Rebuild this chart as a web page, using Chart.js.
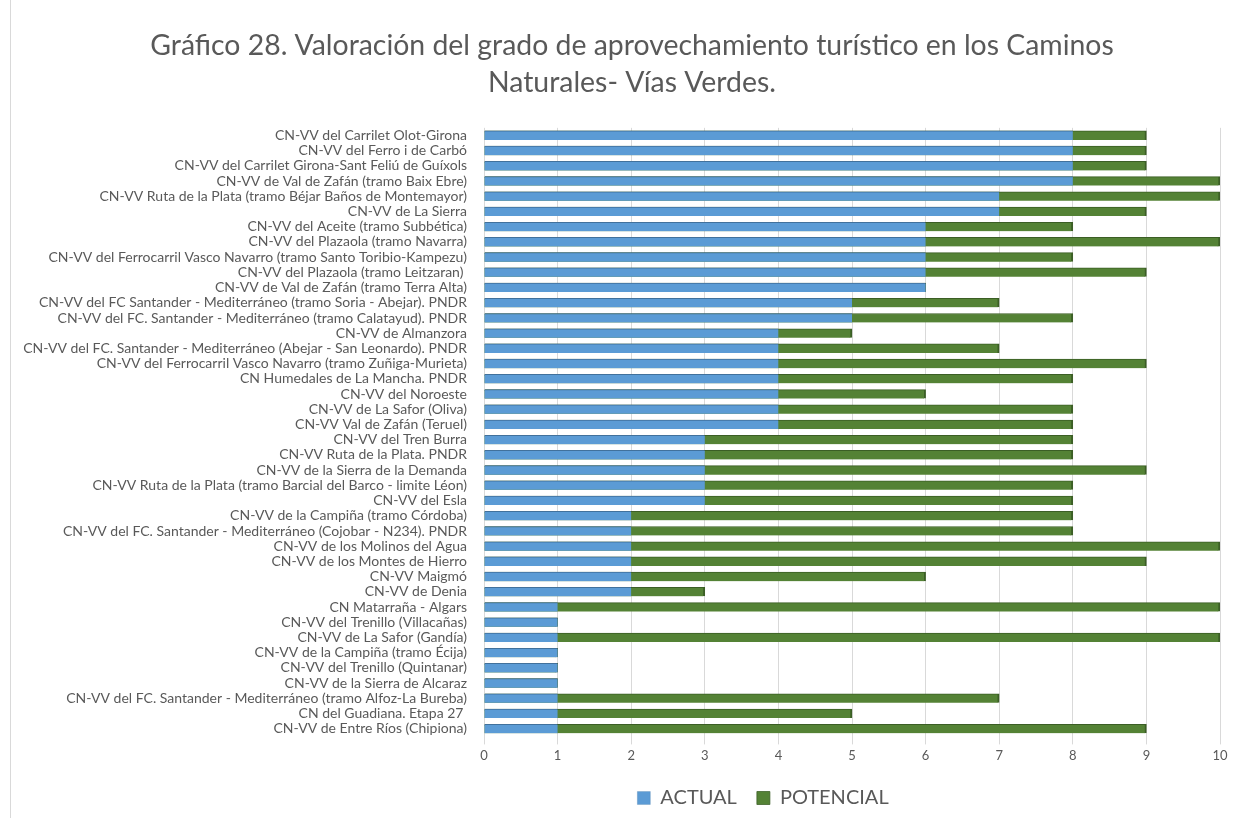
<!DOCTYPE html>
<html>
<head>
<meta charset="utf-8">
<script src="https://cdn.jsdelivr.net/npm/chart.js@4"></script>
<style>
  html, body { margin: 0; padding: 0; background: #fff; }
  #wrap { position: relative; width: 1244px; height: 818px; }
  #frame { position: absolute; left: 10px; top: 0; width: 1px; height: 818px; background: #d9d9d9; }
</style>
</head>
<body>
<div id="wrap">
  <div id="frame"></div>
  <canvas id="myChart" width="1244" height="818"></canvas>
</div>
<script>
// categorias (de arriba a abajo)
let labels = [
  'CN-VV del Carrilet Olot-Girona',
  'CN-VV del Ferro i de Carbó',
  'CN-VV del Carrilet Girona-Sant Feliú de Guíxols',
  'CN-VV de Val de Zafán (tramo Baix Ebre)',
  'CN-VV Ruta de la Plata (tramo Béjar Baños de Montemayor)',
  'CN-VV de La Sierra',
  'CN-VV del Aceite (tramo Subbética)',
  'CN-VV del Plazaola (tramo Navarra)',
  'CN-VV del Ferrocarril Vasco Navarro (tramo Santo Toribio-Kampezu)',
  'CN-VV del Plazaola (tramo Leitzaran) ',
  'CN-VV de Val de Zafán (tramo Terra Alta)',
  'CN-VV del FC Santander - Mediterráneo (tramo Soria - Abejar). PNDR',
  'CN-VV del FC. Santander - Mediterráneo (tramo Calatayud). PNDR',
  'CN-VV de Almanzora',
  'CN-VV del FC. Santander - Mediterráneo (Abejar - San Leonardo). PNDR',
  'CN-VV del Ferrocarril Vasco Navarro (tramo Zuñiga-Murieta)',
  'CN Humedales de La Mancha. PNDR',
  'CN-VV del Noroeste',
  'CN-VV de La Safor (Oliva)',
  'CN-VV Val de Zafán (Teruel)',
  'CN-VV del Tren Burra',
  'CN-VV Ruta de la Plata. PNDR',
  'CN-VV de la Sierra de la Demanda',
  'CN-VV Ruta de la Plata (tramo Barcial del Barco - limite Léon)',
  'CN-VV del Esla',
  'CN-VV de la Campiña (tramo Córdoba)',
  'CN-VV del FC. Santander - Mediterráneo (Cojobar - N234). PNDR',
  'CN-VV de los Molinos del Agua',
  'CN-VV de los Montes de Hierro',
  'CN-VV Maigmó',
  'CN-VV de Denia',
  'CN Matarraña - Algars',
  'CN-VV del Trenillo (Villacañas)',
  'CN-VV de La Safor (Gandía)',
  'CN-VV de la Campiña (tramo Écija)',
  'CN-VV del Trenillo (Quintanar)',
  'CN-VV de la Sierra de Alcaraz',
  'CN-VV del FC. Santander - Mediterráneo (tramo Alfoz-La Bureba)',
  'CN del Guadiana. Etapa 27 ',
  'CN-VV de Entre Ríos (Chipiona)'
];

let actual = [8, 8, 8, 8, 7, 7, 6, 6, 6, 6, 6, 5, 5, 4, 4, 4, 4, 4, 4, 4,
              3, 3, 3, 3, 3, 2, 2, 2, 2, 2, 2, 1, 1, 1, 1, 1, 1, 1, 1, 1];
let potencial = [9, 9, 9, 10, 10, 9, 8, 10, 8, 9, 6, 7, 8, 5, 7, 9, 8, 6, 8, 8,
                 8, 8, 9, 8, 8, 8, 8, 10, 9, 6, 3, 10, 1, 10, 1, 1, 1, 7, 5, 9];

let xTicks = [0, 1, 2, 3, 4, 5, 6, 7, 8, 9, 10];

let textColor = '#595959';
let fontFamily = "Lato, 'Open Sans', sans-serif";

// titulo y leyenda del original no estan centrados, los movemos a mano
const blockShift = {
    id: 'blockShift',
    afterLayout(chart) {
        let dxTitle = 17;
        let dxLegend = 148;
        chart.titleBlock.left += dxTitle;
        chart.titleBlock.right += dxTitle;
        chart.legend.left += dxLegend;
        chart.legend.right += dxLegend;
    }
};

let ctx = document.getElementById('myChart').getContext('2d');

let myChart = new Chart(ctx, {
    type: 'bar',
    data: {
        labels: labels,
        datasets: [
            {
                label: 'ACTUAL',
                data: actual,
                backgroundColor: '#5b9bd5',
                borderColor: '#41719c',
                borderWidth: { top: 1, right: 0, bottom: 0, left: 0 },
                borderSkipped: false,
                barThickness: 9,
                grouped: false,
                order: 1
            },
            {
                label: 'POTENCIAL',
                data: potencial,
                backgroundColor: '#548235',
                borderColor: '#3b5e25',
                borderWidth: { top: 1, right: 2, bottom: 0, left: 0 },
                borderSkipped: false,
                barThickness: 9,
                grouped: false,
                order: 2
            }
        ]
    },
    options: {
        indexAxis: 'y',
        responsive: false,
        animation: false,
        layout: { padding: { left: 10, right: 24, top: 15, bottom: 0 } },
        scales: {
            x: {
                min: 0,
                max: 10,
                afterBuildTicks: (scale) => { scale.ticks = xTicks.map(v => ({ value: v })); },
                grid: { color: '#d9d9d9', lineWidth: 1, tickLength: 8, tickColor: '#d9d9d9' },
                border: { display: false },
                ticks: { color: textColor, font: { family: fontFamily, size: 13 }, padding: 4 }
            },
            y: {
                afterFit: (scale) => { scale.width = 474; },
                grid: { display: false },
                border: { display: false },
                ticks: { color: textColor, font: { family: fontFamily, size: 14 }, padding: 9, autoSkip: false }
            }
        },
        plugins: {
            title: {
                display: true,
                text: ['Gráfico 28. Valoración del grado de aprovechamiento turístico en los Caminos',
                       'Naturales- Vías Verdes.'],
                color: textColor,
                font: { family: fontFamily, size: 28.4, weight: 'normal', lineHeight: 1.3 },
                padding: { top: 12, bottom: 27 }
            },
            legend: {
                position: 'bottom',
                labels: {
                    color: textColor,
                    font: { family: fontFamily, size: 20 },
                    boxWidth: 13,
                    boxHeight: 13,
                    padding: 20
                }
            },
            tooltip: { enabled: false }
        }
    },
    plugins: [blockShift]
});
</script>
</body>
</html>
